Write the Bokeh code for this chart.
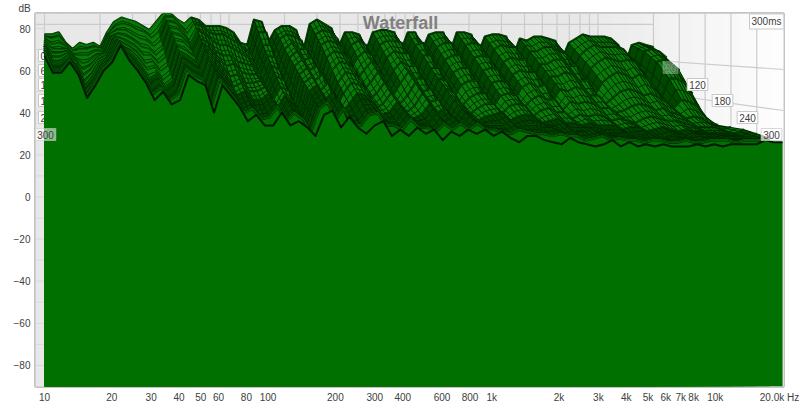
import math
from bokeh.plotting import figure
from bokeh.models import FixedTicker, Label
from bokeh.embed import file_html
from bokeh.resources import INLINE

# Readings: slice times, and the level read on the dB axis per frequency
times = [0, 30, 60, 90, 120, 150, 180, 210, 240, 270, 300]
band_low = [
 (10,77,76,75,74,73,72,72,71,70,69,67),(10.9,77,75,72,70,68,66,64,63,61,60,59),(11.9,78,76,73,70,68,66,64,63,61,60,59),
 (13,73,72,71,70,69,68,67,66,65,65,64),(14.2,70,69,67,66,65,64,62,61,60,59,58),(15.5,73,70,67,63,60,57,54,52,50,48,47),
 (16.9,72,70,67,64,62,60,58,57,55,54,53),(18.4,73,71,69,67,66,65,64,63,62,61,60),(20.1,71,70,69,68,68,67,66,66,65,65,64),
 (21.9,78,77,77,76,76,75,75,74,74,73,72),(23.9,83,81,79,77,75,73,71,70,68,66,65),(26.1,85,82,79,76,73,71,69,67,64,62,60),
 (28.5,84,81,77,74,71,68,65,62,59,56,54),(31.1,83,79,75,71,67,63,60,56,52,49,46),(33.9,81,78,74,70,67,64,61,58,55,52,50),
 (37,79,75,71,67,63,59,55,52,49,46,44),(40.4,83,78,74,70,66,62,58,55,52,49,46),(44.1,87,85,83,80,77,74,71,68,65,61,58),
 (48.1,87,85,82,79,76,73,69,66,62,58,55),(52.5,84,81,78,75,72,69,66,63,60,56,53),(57.3,82,77,72,67,62,58,54,50,46,43,40),
 (62.5,85,82,79,75,72,69,65,62,59,56,53),(68.2,84,81,77,73,69,65,61,58,54,51,48),(74.4,81,78,74,69,65,61,57,53,50,46,43),
 (81.2,81,77,72,67,62,57,52,48,44,40,36),(88.6,81,77,72,67,63,58,54,50,46,42,39),(96.7,80,75,70,64,59,54,50,46,41,37,34),
 (105.5,78,73,68,63,58,54,50,46,42,38,34),(115,73,70,66,62,58,55,52,49,46,43,40),(126,72,67,62,58,53,49,46,42,39,36,34),
]
band_mid = [
 (137,84,78,72,67,62,57,52,48,44,40,36),(150,83,78,72,66,60,55,50,45,41,37,33),(163,73,67,60,54,48,43,39,36,33,31,29),
 (178,79,75,70,66,62,58,54,50,46,42,39),(194,81,77,73,69,65,61,57,53,49,45,41),(212,81,76,70,65,60,55,50,46,41,37,33),
 (231,79,74,70,66,62,58,54,50,46,42,38),(252,68,63,58,53,49,45,42,39,37,35,33),(275,82,77,72,66,60,54,49,44,39,34,30),
 (300,84,79,74,69,64,59,54,49,44,39,34),(328,82,78,73,68,63,58,53,48,44,40,36),(358,80,75,70,65,60,55,50,45,40,34,29),
 (390,70,65,60,55,50,46,42,39,36,34,32),(426,78,72,66,60,54,49,44,40,36,32,29),(465,78,74,69,64,59,54,49,45,41,37,33),
 (507,77,72,67,61,55,49,44,40,36,33,30),(553,69,64,58,53,48,44,40,37,35,33,32),(604,78,72,66,60,54,48,43,39,35,31,27),
 (659,79,74,69,64,59,54,49,44,40,35,31),(719,79,74,68,62,56,50,45,40,36,32,29),(785,78,73,68,62,56,51,46,42,38,35,32),
 (856,69,63,57,52,47,43,39,36,34,32,30),(935,78,72,67,61,56,51,46,42,38,35,32),(1020,78,73,67,61,55,49,44,40,36,32,29),
 (1113,69,63,57,52,47,43,39,36,34,32,31),(1215,77,71,65,59,53,47,42,38,34,31,28),(1326,78,73,67,61,55,49,44,39,34,30,26),
 (1447,78,73,67,61,55,49,44,40,36,32,29),(1579,68,62,56,51,46,42,39,36,33,31,29),(1723,78,72,66,60,54,48,43,38,34,30,27),
]
band_high = [
 (1880,78,73,67,61,55,49,44,39,34,30,26),(2052,77,72,66,60,54,48,43,38,33,29,25),(2239,67,61,55,50,46,42,38,35,33,30,28),
 (2444,76,70,64,58,52,46,41,36,32,29,26),(2667,77,72,66,60,54,48,42,37,33,29,25),(2910,77,71,65,59,52,46,40,35,31,27,24),
 (3176,76,71,65,59,53,46,40,35,31,28,25),(3466,66,60,54,49,45,41,37,34,32,29,27),(3782,75,69,63,57,51,45,39,35,31,27,24),
 (4128,74,69,63,57,50,44,38,34,30,28,26),(4505,76,71,65,59,52,45,39,34,30,27,24),(4916,76,71,65,58,51,44,38,34,30,27,25),
 (5365,75,69,62,55,48,42,36,32,29,26,24),(5855,74,68,62,55,48,42,37,33,29,27,25),(6389,65,59,53,48,44,40,36,33,30,27,24),
 (6973,73,67,61,54,47,41,35,31,28,26,24),(7609,75,70,64,57,50,43,37,32,28,26,24),(8304,77,72,66,59,51,44,38,33,29,27,25),
 (9062,76,71,65,58,50,43,37,32,29,26,24),(9890,76,71,64,56,48,41,36,31,28,26,25),(10793,76,71,65,58,49,42,36,32,29,27,24),
 (11778,75,70,64,56,47,40,35,31,29,27,25),(12854,72,66,60,52,45,39,34,31,29,27,25),(14028,62,57,52,47,42,37,33,30,28,26,25),
 (15309,72,69,64,56,46,38,33,30,28,27,25),(16706,73,70,65,56,45,37,33,30,28,27,27),(18232,72,69,63,54,43,35,32,30,28,27,26),
 (20000,71,66,60,49,38,34,33,32,30,28,26),
]
x_ticks = [10,20,30,40,50,60,80,100,200,300,400,600,800,1000,2000,3000,4000,5000,6000,7000,8000,10000,19370]
x_labels = ["10","20","30","40","50","60","80","100","200","300","400","600","800","1k","2k","3k","4k","5k","6k","7k","8k","10k","20.0k Hz"]
y_ticks = [80,60,40,20,0,-20,-40,-60,-80]
wall_freqs = [10,20,30,40,50,60,70,80,90,100,200,300,400,500,600,700,800,900,1000,2000,3000,4000,5000,6000,7000,8000,9000,10000]
wall_times = [0,60,120,180,240]
GREEN, DARK, LIGHT = "#007000", "#002800", "#087a08"

PX_DEC, PX_DB = 223.6, 2.106
def fx(px): return 10 ** (1 + (px - 44) / PX_DEC)
def dy(py): return 80 - (py - 28) / PX_DB
def persp(f, t):
    k = 0.825 + 0.175 * t / 300
    return 10 ** (1 + k * (math.log10(f) - 1))
def geomid(a, b): return math.sqrt(a * b)

rows = band_low + band_mid + band_high
freqs = [r[0] for r in rows]

p = figure(width=800, height=405, x_axis_type="log", output_backend="svg", toolbar_location=None,
           x_range=(fx(35), fx(783)), y_range=(dy(386), dy(13)),
           min_border_left=35, min_border_right=17, min_border_top=13, min_border_bottom=19,
           background_fill_color="white", border_fill_color="white",
           title="dB", title_location="above")
p.title.text_font = "Liberation Sans"
p.title.text_font_size = "10px"
p.title.text_font_style = "normal"
p.title.text_color = "#404040"
p.title.standoff = 0
p.title.offset = -17
p.grid.visible = False
p.outline_line_color = "#c4c4c4"
p.outline_line_width = 3

bands = list(range(35, 783, 16))
for b in bands:
    g = 232 if b < 560 else int(232 + (b - 560) / 223 * 23)
    col = "#%02x%02x%02x" % (g, g, g)
    p.quad(left=fx(b), right=fx(b + 17), bottom=dy(386), top=dy(13), fill_color=col, line_color=None, level="image")

GC = "#cbcbcb"
for f in wall_freqs:
    x = persp(f, 0)
    p.line([x, x], [dy(13), dy(150)], line_color=GC, line_width=1.2, level="underlay")
for t in wall_times:
    x = persp(20000, t)
    p.line([x, x], [dy(13), dy(150)], line_color=GC, line_width=1.2, level="underlay")
p.line([fx(35), fx(653)], [82, 82], line_color=GC, line_width=1.2, level="underlay")
p.line([fx(653), fx(783)], [dy(60), dy(69)], line_color=GC, line_width=1.2, level="underlay")
p.line([fx(653), fx(783)], [dy(92), dy(110)], line_color=GC, line_width=1.2, level="underlay")
for d in range(-90, 90, 10):
    p.line([fx(35), fx(44)], [d, d], line_color="#d8d8d8", line_width=1, level="underlay")

def lab(text, px, py, level="annotation", box=True, alpha=1.0, align="center", color="#404040", size="10px", style="normal"):
    kw = {}
    if box:
        kw = dict(background_fill_color="white", background_fill_alpha=alpha, border_line_color="#c8c8c8",
                  border_line_alpha=alpha, padding=2)
    p.add_layout(Label(x=fx(px), y=dy(py), text=text, text_align=align, text_baseline="middle",
                       text_font="Liberation Sans", text_font_size=size, text_color=color,
                       text_font_style=style, level=level, **kw))

for txt, py in [("0", 55), ("60", 70), ("120", 84), ("180", 100), ("240", 117)]:
    lab(txt, 38, py, level="underlay", align="left")

# the surface: strips between neighbouring slices, back to front, as a wire mesh.
# Each mesh cell carries a centre cross as shading texture only.
prev_x = prev_y = None
for i, t in enumerate(times):
    xs = [persp(f, t) for f in freqs]
    ys = [r[i + 1] for r in rows]
    bottom = dy(386)
    p.patch(xs + [xs[-1], xs[0]], ys + [bottom, bottom], fill_color=GREEN, line_color=None)
    if prev_x is not None and t < 300:
        cx, cy, cc, ca, hx, hy, ha = [], [], [], [], [], [], []
        for j in range(len(xs) - 1):
            cx.append([prev_x[j], prev_x[j + 1], xs[j + 1], xs[j]])
            cy.append([prev_y[j], prev_y[j + 1], ys[j + 1], ys[j]])
            slope = (ys[j + 1] + prev_y[j + 1] - ys[j] - prev_y[j]) / 2
            base = "#004800" if slope > 6 else ("#005800" if slope < -6 else LIGHT)
            cc.append("#004400" if t >= 240 else base)
            ca.append(0.0 if freqs[j] < 60 else 1.0)
            hx.append([geomid(prev_x[j], prev_x[j + 1]), geomid(xs[j], xs[j + 1])])
            hy.append([(prev_y[j] + prev_y[j + 1]) / 2, (ys[j] + ys[j + 1]) / 2])
            ha.append(ca[-1])
            hx.append([geomid(prev_x[j], xs[j]), geomid(prev_x[j + 1], xs[j + 1])])
            hy.append([(prev_y[j] + ys[j]) / 2, (prev_y[j + 1] + ys[j + 1]) / 2])
            ha.append(1.0)
        p.patches(cx, cy, fill_color=cc, line_color=DARK, line_width=1.0, line_alpha=ca)
        p.multi_line(hx, hy, line_color=DARK, line_width=0.9, line_alpha=ha)
    if t < 300:
        for w, c in [(3.0, DARK), (1.6, LIGHT), (0.7, DARK)]:
            p.line(xs, ys, line_color=c, line_width=w, line_join="round")
    else:
        p.line(xs, ys, line_color="#001800", line_width=2, line_join="round")
    prev_x, prev_y = xs, ys

lab("300", 45, 134, alpha=0.55)
lab("60", 670, 67, alpha=0.3, color="#6fa06f")
lab("120", 697, 84)
lab("180", 722, 100)
lab("240", 747, 117)
lab("300", 771, 134, alpha=0.7)
lab("300ms", 766, 21)
lab("Waterfall", 400, 22, box=False, color="#808080", size="18px", style="bold")

p.xaxis.ticker = FixedTicker(ticks=x_ticks)
p.xaxis.major_label_overrides = dict(zip(x_ticks, x_labels))
p.yaxis.ticker = FixedTicker(ticks=y_ticks)
for ax in (p.xaxis, p.yaxis):
    ax.axis_line_color = None
    ax.major_tick_line_color = None
    ax.minor_tick_line_color = None
    ax.major_tick_out = 0
    ax.major_tick_in = 0
    ax.major_label_text_font = "Liberation Sans"
    ax.major_label_text_font_size = "10px"
    ax.major_label_text_color = "#404040"
    ax.major_label_standoff = 5

open("out.html", "w").write(file_html(p, INLINE))
